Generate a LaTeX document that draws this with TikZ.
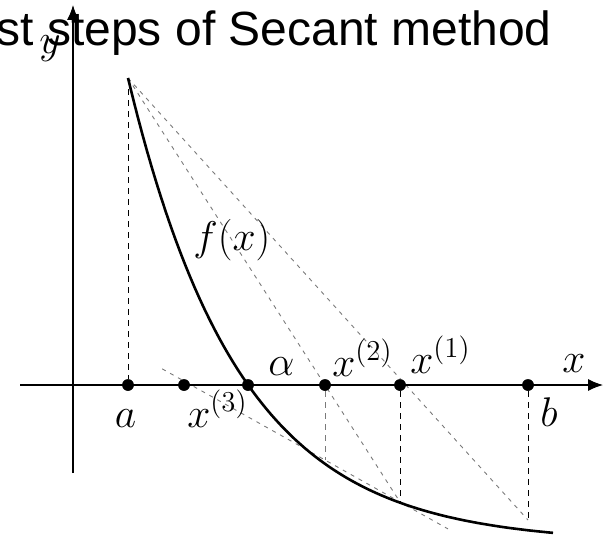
\documentclass[tikz,border=0pt]{standalone}
\usepackage{amsmath}
\usepackage{fontspec}
\newfontfamily\titlefont{Liberation Sans}
\usetikzlibrary{arrows.meta,calc}
\definecolor{secantgray}{HTML}{7A7A7A}

\begin{document}
\begin{tikzpicture}[x=0.5pt, y=0.5pt, >={Latex[length=7.5pt,width=6pt]},
                    every node/.style={font=\fontsize{20.74}{25}\selectfont, inner sep=0pt},
                    axis/.style={line width=0.55pt},
                    curve/.style={line width=1.3pt},
                    guide/.style={line width=0.45pt, dash pattern=on 3pt off 2.5pt},
                    secant/.style={secantgray, line width=0.45pt, dash pattern=on 2pt off 2.5pt},
                    pt/.style={circle, fill, minimum size=5.75pt}]

  %% 畫面大小
  \useasboundingbox (0,0) rectangle (613,537);
  \clip (0,0) rectangle (613,537);

  %% 曲線上的點
  \coordinate (fa)  at (128,459);
  \coordinate (fb)  at (528,17);
  \coordinate (fx1) at (400,35);
  \coordinate (fx2) at (325,77);

  %% 軸上的點
  \node[pt] (a)     at (128,152) {};
  \node[pt] (x3)    at (184,152) {};
  \node[pt] (alpha) at (248,152) {};
  \node[pt] (x2)    at (325,152) {};
  \node[pt] (x1)    at (400,152) {};
  \node[pt] (b)     at (528,152) {};

  %% 割線
  \draw[secant] (fa) -- (fb);
  \draw[secant] (fa) -- (fx1);
  \draw[secant] ($(fx2)!-2.17!(fx1)$) -- ($(fx2)!1.64!(fx1)$);

  %% 垂直虛線
  \draw[guide] (fa) -- (a);
  \draw[guide, secantgray] (x2) -- (fx2);
  \draw[guide] (x1) -- (fx1);
  \draw[guide] (b) -- (fb);

  %% f(x)
  \draw[curve] plot[domain=128:553, samples=90]
    (\x, {-6+465*exp(-0.00899*(\x-128))});

  %% 座標軸
  \coordinate (xstart) at (20,152);
  \coordinate (xend)   at (603,152);
  \coordinate (ystart) at (73,64);
  \coordinate (yend)   at (73,532);
  \draw[axis, ->] (xstart) -- (xend);
  \draw[axis, ->] (ystart) -- (yend);

  %% 重畫軸上的點
  \foreach \p in {a, x3, alpha, x2, x1, b}
    \node[pt] at (\p) {};

  %% 標籤
  \node[anchor=base] (la) at (125.5,110) {$a$};
  \node[anchor=base] (lb) at (549,111) {$b$};
  \node[anchor=base west] (lx3) at (187,110) {$x^{(3)}$};
  \node[anchor=base west] (lalpha) at (268,162) {$\alpha$};
  \node[anchor=base west] (lx2) at (332,161) {$x^{(2)}$};
  \node[anchor=base west] (lx1) at (410,164) {$x^{(1)}$};
  \node[anchor=base west] (lx) at (562,165) {$x$};
  \node[anchor=base west] (ly) at (39,484) {$y$};
  \node[anchor=base west] (lf) at (193,287) {$f(x)$};

  %% 標題
  \node[anchor=base east, font=\titlefont\fontsize{24}{29}\selectfont]
    (title) at (552,492) {First steps of Secant method};

\end{tikzpicture}
\end{document}
